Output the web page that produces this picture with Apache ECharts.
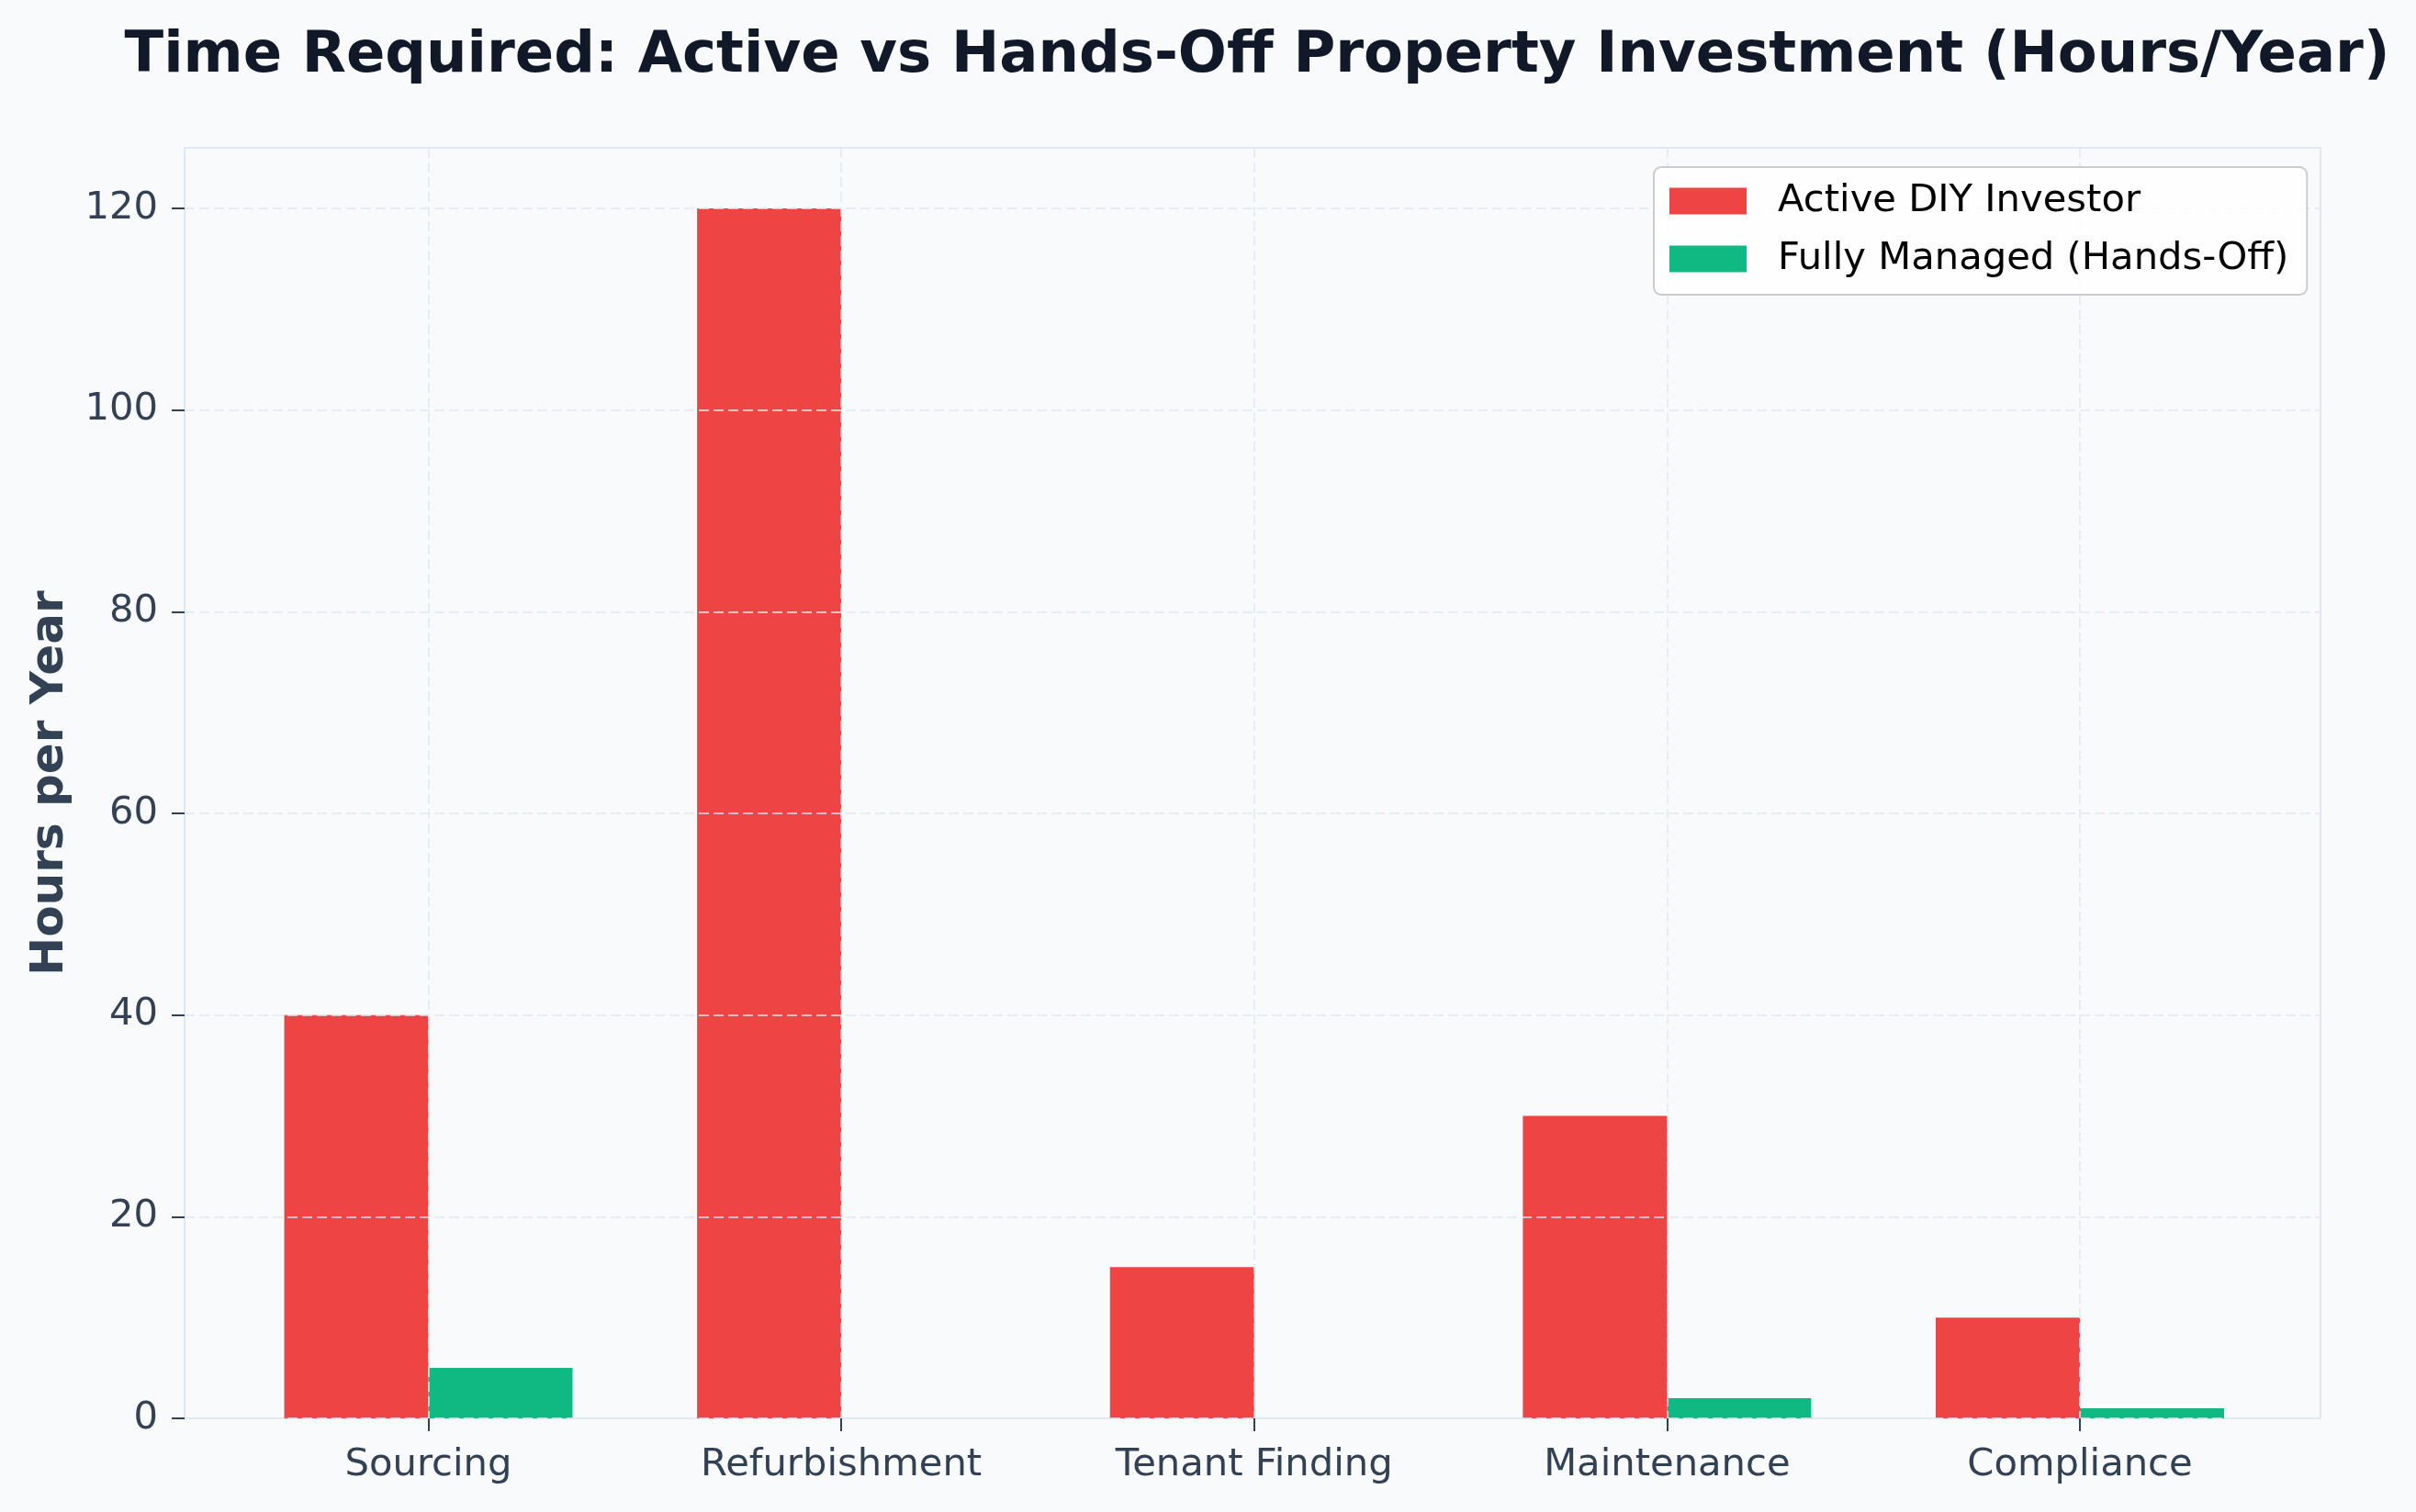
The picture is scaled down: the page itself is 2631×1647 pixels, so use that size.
<!DOCTYPE html>
<html>
<head>
<meta charset="utf-8">
<script src="https://cdn.jsdelivr.net/npm/echarts@6/dist/echarts.min.js"></script>
<style>
  html, body { margin: 0; padding: 0; background: #f8fafc; }
  #chart { width: 2631px; height: 1647px; }
</style>
</head>
<body>
<div id="chart"></div>
<script>
// chart data
const categories = ['Sourcing', 'Refurbishment', 'Tenant Finding', 'Maintenance', 'Compliance'];
const activeHours = [40, 120, 15, 30, 10];
const managedHours = [5, 0, 0, 2, 1];
const seriesNames = ['Active DIY Investor', 'Fully Managed (Hands-Off)'];

const myChart = echarts.init(document.getElementById('chart'));

const gridLine = {
  show: true,
  lineStyle: { color: 'rgba(226,232,240,0.75)', width: 2, type: [11, 5] }
};

myChart.setOption({
  backgroundColor: '#f8fafc',
  animation: false,
  textStyle: { fontFamily: 'DejaVu Sans' },
  title: {
    text: 'Time Required: Active vs Hands-Off Property Investment (Hours/Year)',
    left: 1364,
    textAlign: 'center',
    top: 25,
    textStyle: { fontSize: 62.5, fontWeight: 'bold', color: '#111827', fontFamily: 'DejaVu Sans' }
  },
  legend: {
    data: seriesNames,
    orient: 'vertical',
    z: 20,
    left: 1801,
    top: 182,
    itemWidth: 84,
    itemHeight: 29,
    itemGap: 21,
    icon: 'rect',
    padding: [16, 20, 18, 17],
    backgroundColor: 'rgba(255,255,255,0.8)',
    borderColor: '#cccccc',
    borderWidth: 2,
    borderRadius: 8,
    textStyle: { fontSize: 41.7, color: '#000000', lineHeight: 42, padding: [0, 0, 0, 29] }
  },
  grid: [
    // frame + y axis
    { left: 201, right: 104, top: 161, bottom: 102, show: true, borderColor: '#e2e8f0', borderWidth: 2, backgroundColor: '#f8fafc' },
    // bars, category centres
    { left: 466.5, right: 366, top: 161, bottom: 102 }
  ],
  xAxis: [
    { gridIndex: 0, type: 'value', show: false, min: 0, max: 1 },
    {
      gridIndex: 1,
      type: 'category',
      data: categories,
      boundaryGap: false,
      z: 5,
      axisLine: { show: false },
      axisTick: { show: true, length: 14, lineStyle: { color: '#334155', width: 2 } },
      axisLabel: { fontSize: 41.7, color: '#334155', margin: 30 },
      splitLine: gridLine
    }
  ],
  yAxis: [
    {
      gridIndex: 0,
      type: 'value',
      min: 0,
      max: 126,
      interval: 20,
      z: 5,
      name: 'Hours per Year',
      nameLocation: 'middle',
      nameGap: 121,
      nameTextStyle: { fontSize: 50, fontWeight: 'bold', color: '#334155' },
      axisLine: { show: true, lineStyle: { color: '#e2e8f0', width: 2 } },
      axisTick: { show: true, length: 14, lineStyle: { color: '#334155', width: 2 } },
      axisLabel: { fontSize: 41.7, color: '#334155', margin: 29, showMaxLabel: false },
      splitLine: gridLine
    },
    { gridIndex: 1, type: 'value', min: 0, max: 126, show: false }
  ],
  series: [
    {
      name: seriesNames[0],
      type: 'bar',
      xAxisIndex: 1,
      yAxisIndex: 1,
      data: activeHours,
      barWidth: 157,
      barGap: '0%',
      clip: false,
      itemStyle: { color: '#ef4444' }
    },
    {
      name: seriesNames[1],
      type: 'bar',
      xAxisIndex: 1,
      yAxisIndex: 1,
      data: managedHours,
      barWidth: 157,
      barGap: '0%',
      clip: false,
      itemStyle: { color: '#10b981' }
    }
  ]
});

window.onresize = function () {
  myChart.resize();
};
</script>
</body>
</html>
